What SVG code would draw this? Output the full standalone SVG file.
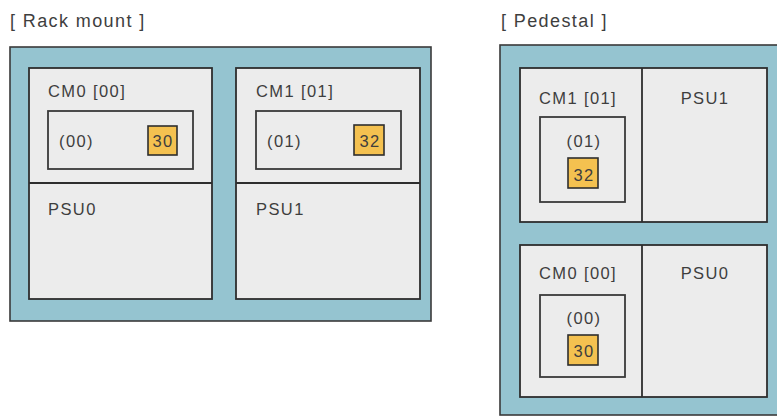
<svg xmlns="http://www.w3.org/2000/svg" width="777" height="417" viewBox="0 0 777 417">
<style>
.title{font-family:"Liberation Sans",Arial,sans-serif;font-size:18px;letter-spacing:1.4px;fill:#3e3e3e}
.lbl{font-family:"Liberation Sans",Arial,sans-serif;font-size:16.5px;letter-spacing:1.4px;fill:#3e3e3e}
.c{text-anchor:middle}
.frame{fill:#95c4d0;stroke:#3a3a3a;stroke-width:1.6}
.panel{fill:#ececec;stroke:#2e2e2e;stroke-width:1.8}
.inner{fill:#ececec;stroke:#3a3a3a;stroke-width:1.8}
.led{fill:#f4c150;stroke:#2e2e2e;stroke-width:1.6}
.div{stroke:#2e2e2e;stroke-width:1.8;fill:none}
</style>
<rect width="777" height="417" fill="#fff"/>
<text class="title" x="10" y="27">[ Rack mount ]</text>
<text class="title" x="501" y="27">[ Pedestal ]</text>

<g id="rack">
<rect class="frame" x="10" y="47" width="421" height="274"/>
<g id="rack-slot0">
<rect class="panel" x="29" y="68" width="183" height="231"/>
<line class="div" x1="29" y1="183" x2="212" y2="183"/>
<text class="lbl" x="48" y="97">CM0 [00]</text>
<g id="rack-cm0">
<rect class="inner" x="48" y="111" width="145" height="58"/>
<text class="lbl" x="59" y="147">(00)</text>
<rect class="led" x="148" y="126" width="29" height="29"/>
<text class="lbl c" x="163" y="147">30</text>
</g>
<text class="lbl" x="48" y="215">PSU0</text>
</g>
<g id="rack-slot1">
<rect class="panel" x="236" y="68" width="184" height="231"/>
<line class="div" x1="236" y1="183" x2="420" y2="183"/>
<text class="lbl" x="256" y="97">CM1 [01]</text>
<g id="rack-cm1">
<rect class="inner" x="256" y="111" width="145" height="58"/>
<text class="lbl" x="267" y="147">(01)</text>
<rect class="led" x="354" y="125" width="30" height="30"/>
<text class="lbl c" x="370" y="147">32</text>
</g>
<text class="lbl" x="256" y="215">PSU1</text>
</g>
</g>

<g id="pedestal">
<rect class="frame" x="500" y="45" width="290" height="370"/>
<g id="ped-slot1">
<rect class="panel" x="520" y="68" width="247" height="154"/>
<line class="div" x1="642" y1="68" x2="642" y2="222"/>
<text class="lbl c" x="578" y="104">CM1 [01]</text>
<text class="lbl c" x="705" y="104">PSU1</text>
<g id="ped-cm1">
<rect class="inner" x="540" y="117" width="85" height="85"/>
<text class="lbl c" x="584" y="147">(01)</text>
<rect class="led" x="568" y="158" width="30" height="30"/>
<text class="lbl c" x="584" y="181">32</text>
</g>
</g>
<g id="ped-slot0">
<rect class="panel" x="520" y="245" width="247" height="152"/>
<line class="div" x1="642" y1="245" x2="642" y2="397"/>
<text class="lbl c" x="578" y="279">CM0 [00]</text>
<text class="lbl c" x="705" y="279">PSU0</text>
<g id="ped-cm0">
<rect class="inner" x="540" y="295" width="85" height="82"/>
<text class="lbl c" x="584" y="324">(00)</text>
<rect class="led" x="568" y="335" width="30" height="30"/>
<text class="lbl c" x="584" y="357">30</text>
</g>
</g>
</g>
</svg>
